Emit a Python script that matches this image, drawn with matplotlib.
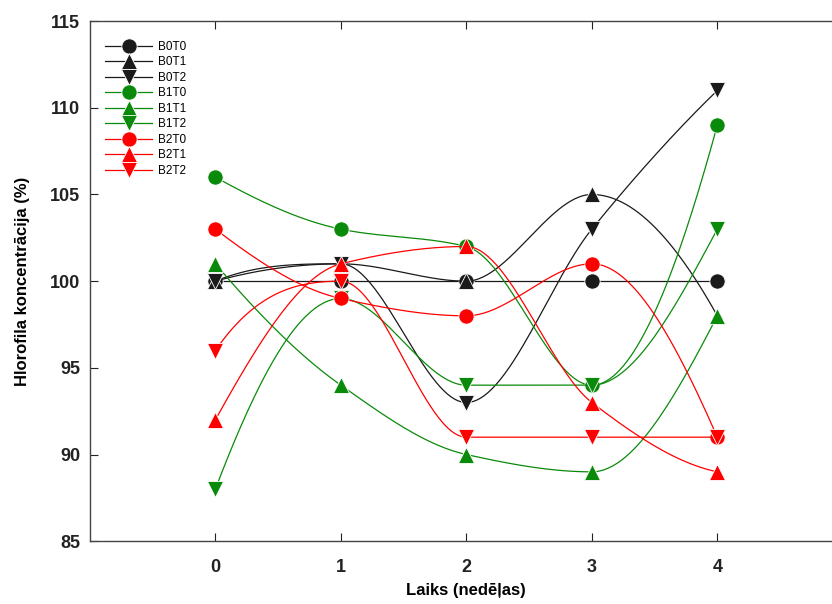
import numpy as np
import matplotlib
matplotlib.use('Agg')
import matplotlib.pyplot as plt

# dati (nedēļas un hlorofila koncentrācija, %)
weeks = [0, 1, 2, 3, 4]
names = ['B0T0', 'B0T1', 'B0T2', 'B1T0', 'B1T1', 'B1T2', 'B2T0', 'B2T1', 'B2T2']
B0T0 = [100, 100, 100, 100, 100]
B0T1 = [100, 101, 100, 105, 98]
B0T2 = [100, 101, 93, 103, 111]
B1T0 = [106, 103, 102, 94, 109]
B1T1 = [101, 94, 90, 89, 98]
B1T2 = [88, 99, 94, 94, 103]
B2T0 = [103, 99, 98, 101, 91]
B2T1 = [92, 101, 102, 93, 89]
B2T2 = [96, 100, 91, 91, 91]
series = [B0T0, B0T1, B0T2, B1T0, B1T1, B1T2, B2T0, B2T1, B2T2]

colors = ['#1a1a1a'] * 3 + ['#0a8a0a'] * 3 + ['#ff0000'] * 3
markers = ['o', '^', 'v'] * 3


def pchip_slopes(x, y):
    # Fritsch-Carlson slopes (same as matlab pchip)
    h = np.diff(x)
    d = np.diff(y) / h
    n = len(x)
    m = np.zeros(n)
    for k in range(1, n - 1):
        if d[k - 1] * d[k] > 0:
            w1 = 2 * h[k] + h[k - 1]
            w2 = h[k] + 2 * h[k - 1]
            m[k] = (w1 + w2) / (w1 / d[k - 1] + w2 / d[k])
        else:
            m[k] = 0.0

    def end(h0, h1, d0, d1):
        s = ((2 * h0 + h1) * d0 - h0 * d1) / (h0 + h1)
        if np.sign(s) != np.sign(d0):
            s = 0.0
        elif np.sign(d0) != np.sign(d1) and abs(s) > abs(3 * d0):
            s = 3 * d0
        return s

    m[0] = end(h[0], h[1], d[0], d[1])
    m[-1] = end(h[-1], h[-2], d[-1], d[-2])
    return m


def pchip_curve(x, y, num=60):
    x = np.asarray(x, float)
    y = np.asarray(y, float)
    m = pchip_slopes(x, y)
    xs, ys = [], []
    for k in range(len(x) - 1):
        h = x[k + 1] - x[k]
        t = np.linspace(0, 1, num)
        h00 = 2 * t**3 - 3 * t**2 + 1
        h10 = t**3 - 2 * t**2 + t
        h01 = -2 * t**3 + 3 * t**2
        h11 = t**3 - t**2
        xs.append(x[k] + t * h)
        ys.append(h00 * y[k] + h10 * h * m[k] + h01 * y[k + 1] + h11 * h * m[k + 1])
    return np.concatenate(xs), np.concatenate(ys)


plt.rcParams['font.family'] = ['Liberation Sans', 'DejaVu Sans']

fig = plt.figure(figsize=(8.32, 6.04), dpi=100)
ax = fig.add_axes([0.108, 0.104, 0.905, 0.861])

for vals, c, mk, nm in zip(series, colors, markers, names):
    cx, cy = pchip_curve(weeks, vals)
    ax.plot(cx, cy, color=c, linewidth=0.9)
    ax.plot(weeks, vals, linestyle='none', marker=mk, color=c, markersize=11,
            markeredgecolor='white', markeredgewidth=0.6)
    # legend proxy
    ax.plot([], [], color=c, linewidth=0.9, marker=mk, markersize=11,
            markeredgecolor='white', markeredgewidth=0.6, label=nm)

ax.set_xlim(-1, 5)
ax.set_ylim(85, 115)
ax.set_xticks(weeks)
ax.set_yticks(np.arange(85, 116, 5))
ax.tick_params(direction='in', length=6, width=0.8, top=True, right=True,
               labelsize=13, colors='#222222', pad=7)
ax.tick_params(axis='x', pad=13)
for lab in ax.get_xticklabels() + ax.get_yticklabels():
    lab.set_fontweight('bold')
for sp in ax.spines.values():
    sp.set_color('#444444')
    sp.set_linewidth(1.0)

ax.set_xlabel('Laiks (nedēļas)', fontsize=12, fontweight='bold', labelpad=5)
ax.set_ylabel('Hlorofila koncentrācija (%)', fontsize=12, fontweight='bold', labelpad=14)

ax.legend(loc='upper left', bbox_to_anchor=(0.0, 0.992), frameon=False, fontsize=8.5,
          handlelength=4.0, labelspacing=0.3, borderaxespad=0.9, handletextpad=0.5)

fig.savefig('out.png', dpi=100)
